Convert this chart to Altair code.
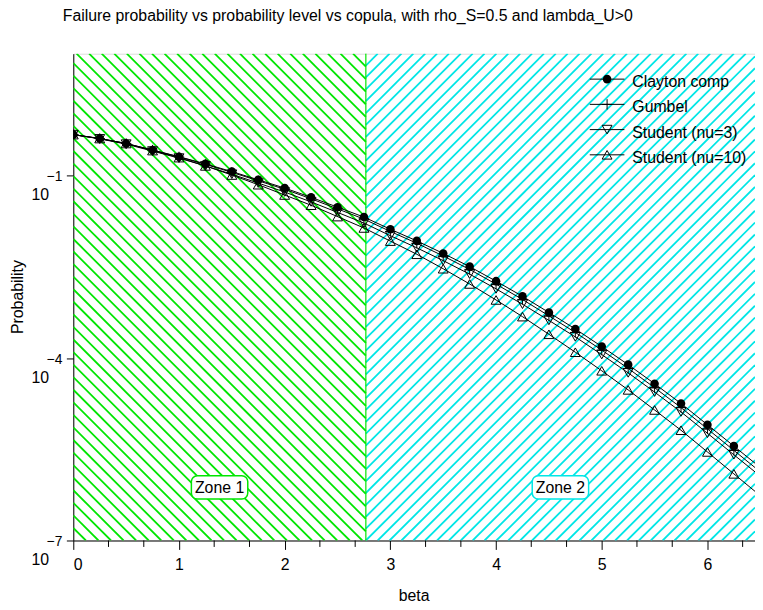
import altair as alt
import pandas as pd

# ---------------- data ----------------
beta = [0.0, 0.25, 0.5, 0.75, 1.0, 1.25, 1.5, 1.75, 2.0, 2.25, 2.5, 2.75, 3.0,
        3.25, 3.5, 3.75, 4.0, 4.25, 4.5, 4.75, 5.0, 5.25, 5.5, 5.75, 6.0, 6.25, 6.5]
# log10 of failure probability
clayton_log10 = [-0.33, -0.394, -0.476, -0.584, -0.692, -0.811, -0.937, -1.072, -1.208,
                 -1.360, -1.522, -1.685, -1.885, -2.076, -2.282, -2.499, -2.738, -2.987,
                 -3.253, -3.524, -3.812, -4.110, -4.424, -4.749, -5.098, -5.449, -5.80]
gumbel_log10 = [-0.33, -0.394, -0.476, -0.584, -0.697, -0.819, -0.950, -1.088, -1.228,
                -1.384, -1.550, -1.718, -1.921, -2.115, -2.324, -2.545, -2.787, -3.039,
                -3.308, -3.581, -3.871, -4.172, -4.489, -4.816, -5.166, -5.519, -5.872]
student3_log10 = [-0.33, -0.399, -0.486, -0.600, -0.716, -0.844, -0.981, -1.126, -1.273,
                  -1.436, -1.608, -1.783, -1.991, -2.190, -2.401, -2.623, -2.865, -3.117,
                  -3.383, -3.654, -3.945, -4.245, -4.561, -4.887, -5.238, -5.591, -5.943]
student10_log10 = [-0.33, -0.394, -0.476, -0.592, -0.708, -0.844, -0.994, -1.153, -1.322,
                   -1.490, -1.677, -1.864, -2.080, -2.296, -2.534, -2.784, -3.047, -3.321,
                   -3.611, -3.906, -4.211, -4.525, -4.855, -5.188, -5.545, -5.905, -6.264]
series_names = ["Clayton comp", "Gumbel", "Student (nu=3)", "Student (nu=10)"]

x_ticks = [0, 1, 2, 3, 4, 5, 6]
x_minor_ticks = [0.333, 0.667, 1.333, 1.667, 2.333, 2.667, 3.333, 3.667, 4.333, 4.667,
                 5.333, 5.667, 6.333]
y_ticks = [1e-7, 1e-4, 1e-1]
y_tick_exponents = ["\u22127", "\u22124", "\u22121"]
zone_boundary = 2.768
zone_labels = ["Zone 1", "Zone 2"]

title_text = "Failure probability vs probability level vs copula, with rho_S=0.5 and lambda_U>0"
x_title = "beta"
y_title = "Probability"

# ---------------- layout ----------------
X_MAX = 6.45
Y_MIN, Y_MAX = 1e-7, 1e1
W, H = 689, 492
FONT = "Liberation Sans"
GREEN = "#00e600"
CYAN = "#00e6e6"

xs = alt.Scale(domain=[0, X_MAX], nice=False, zero=False)
ys = alt.Scale(type="log", domain=[Y_MIN, Y_MAX], nice=False)
x_axis = alt.Axis(values=x_ticks, tickSize=9, labelFontSize=16, labelPadding=7,
                  labelFont=FONT, labelColor="black", format="d", title=None,
                  grid=False, domainColor="black", tickColor="black")
y_axis = alt.Axis(values=y_ticks, tickSize=7, labels=False, title=None, grid=False,
                  domainColor="black", tickColor="black")


def X(f):
    return alt.X(f, type="quantitative", scale=xs, axis=x_axis)


def Y(f):
    return alt.Y(f, type="quantitative", scale=ys, axis=y_axis)


# ---------------- hatching (decoration) ----------------
def px_to_x(px):
    return px * X_MAX / W


def py_to_y(py):
    return 10 ** (1 - py * 8.0 / H)


bx = zone_boundary * W / X_MAX
rows = []
s1 = 12.7
c = -H
while c < bx:
    xa, xb = max(0.0, c), min(bx, c + H)
    if xb > xa:
        rows.append(dict(z="z1", x=px_to_x(xa), y=py_to_y(xa - c),
                         x2=px_to_x(xb), y2=py_to_y(xb - c)))
    c += s1
s2 = 12.0
c = bx
while c < W + H:
    xa, xb = max(bx, c - H), min(W, c)
    if xb > xa:
        rows.append(dict(z="z2", x=px_to_x(xa), y=py_to_y(c - xa),
                         x2=px_to_x(xb), y2=py_to_y(c - xb)))
    c += s2
hatch = pd.DataFrame(rows)

hatch_layer = alt.Chart(hatch).mark_rule(strokeWidth=1.8, clip=True).encode(
    x=X("x"), y=Y("y"), x2="x2:Q", y2="y2:Q",
    color=alt.Color("z:N", scale=alt.Scale(domain=["z1", "z2"], range=[GREEN, CYAN]),
                    legend=None),
)

boundary_layer = alt.Chart(pd.DataFrame({"b": [zone_boundary]})).mark_rule(
    color=GREEN, strokeWidth=1.2).encode(x=X("b"))

# zone label boxes
half = 28.5 * X_MAX / W
zmid = [zone_boundary / 2, (zone_boundary + X_MAX) / 2]
zdf = pd.DataFrame({"label": zone_labels, "mid": zmid,
                    "lo": [m - half for m in zmid], "hi": [m + half for m in zmid],
                    "z": ["z1", "z2"]})
zone_box = alt.Chart(zdf).mark_rect(fill="white", strokeWidth=1.5, cornerRadius=6).encode(
    x=X("lo"), x2="hi:Q", y=alt.value(426.5), y2=alt.value(450),
    stroke=alt.Stroke("z:N", scale=alt.Scale(domain=["z1", "z2"], range=[GREEN, CYAN]),
                      legend=None),
)
zone_text = alt.Chart(zdf).mark_text(fontSize=16, font=FONT, color="black",
                                     baseline="middle").encode(
    x=X("mid"), y=alt.value(438.5), text="label:N")

# ---------------- curves ----------------
long_rows = []
for name, vals in zip(series_names, [clayton_log10, gumbel_log10, student3_log10,
                                     student10_log10]):
    for b, v in zip(beta, vals):
        long_rows.append(dict(series=name, beta=b, p=10 ** v))
df = pd.DataFrame(long_rows)

lines = alt.Chart(df).mark_line(color="black", strokeWidth=1, clip=True).encode(
    x=X("beta"), y=Y("p"), detail="series:N")

PLUS = "M-1,0H1M0,-1V1"
marker_specs = {
    "Clayton comp": dict(shape="circle", filled=True, size=75),
    "Gumbel": dict(shape=PLUS, filled=False, size=110),
    "Student (nu=3)": dict(shape="triangle-down", filled=False, size=100),
    "Student (nu=10)": dict(shape="triangle-up", filled=False, size=100),
}
point_layers = []
for name in series_names:
    spec = marker_specs[name]
    point_layers.append(
        alt.Chart(df[df.series == name]).mark_point(
            color="black", opacity=1, strokeWidth=1, clip=True, **spec
        ).encode(x=X("beta"), y=Y("p"))
    )

# ---------------- legend (drawn manually, inside plot) ----------------
one = pd.DataFrame({"k": [0]})
legend_layers = []
leg_y0, leg_dy = 25.7, 25.5
for i, name in enumerate(series_names):
    yy = leg_y0 + i * leg_dy
    spec = marker_specs[name]
    legend_layers.append(alt.Chart(one).mark_rule(color="black", strokeWidth=1).encode(
        x=alt.value(522), x2=alt.value(557), y=alt.value(yy)))
    legend_layers.append(alt.Chart(one).mark_point(color="black", opacity=1,
                                                   strokeWidth=1, **spec).encode(
        x=alt.value(539.5), y=alt.value(yy)))
    legend_layers.append(alt.Chart(one).mark_text(
        text=name, align="left", baseline="middle", fontSize=16, font=FONT,
        color="black").encode(x=alt.value(565), y=alt.value(yy + 3)))

# ---------------- axis labels / titles ----------------
ydf = pd.DataFrame({"v": y_ticks, "e": y_tick_exponents})
ylab10 = alt.Chart(ydf).mark_text(text="10", align="right", baseline="middle",
                                  fontSize=16, font=FONT, color="black", dy=20).encode(
    x=alt.value(-24.5), y=Y("v"))
ylabexp = alt.Chart(ydf).mark_text(align="right", baseline="middle", fontSize=14,
                                   font=FONT, color="black", dy=2).encode(
    x=alt.value(-11), y=Y("v"), text="e:N")

minor = alt.Chart(pd.DataFrame({"m": x_minor_ticks})).mark_rule(
    color="black", strokeWidth=1).encode(x=X("m"), y=alt.value(H), y2=alt.value(H + 6.5))

title_layer = alt.Chart(one).mark_text(
    text=title_text, align="left", baseline="alphabetic", fontSize=16, font=FONT,
    color="black").encode(x=alt.value(-10.7), y=alt.value(-32.7))
xtitle_layer = alt.Chart(one).mark_text(
    text=x_title, align="center", baseline="alphabetic", fontSize=16, font=FONT,
    color="black").encode(x=alt.value(W / 2), y=alt.value(553))
ytitle_layer = alt.Chart(one).mark_text(
    text=y_title, align="center", baseline="middle", fontSize=16, font=FONT,
    color="black", angle=270).encode(x=alt.value(-56), y=alt.value(H / 2))

chart = alt.layer(
    hatch_layer, boundary_layer, zone_box, zone_text, lines, *point_layers,
    *legend_layers, ylab10, ylabexp, minor, title_layer, xtitle_layer, ytitle_layer
).properties(
    width=W, height=H,
    autosize=alt.AutoSizeParams(type="none"),
    padding={"left": 66, "top": 43, "right": 0, "bottom": 62},
).configure_view(stroke="black", strokeWidth=1).configure(background="white")

chart.save("out.html", embed_options={"renderer": "svg", "actions": False})
